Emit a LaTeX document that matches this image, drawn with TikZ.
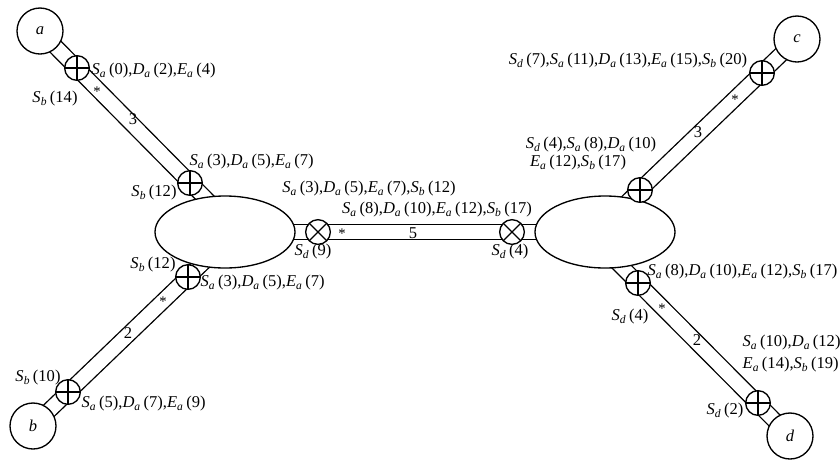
\documentclass[tikz,border=0pt]{standalone}
\usepackage{fontspec}
\setmainfont{Liberation Serif}
\usetikzlibrary{shapes.geometric,backgrounds}
\newcommand\q[3]{\textit{#1}\textsubscript{\textit{#2}}\,(#3)}
\begin{document}
\begin{tikzpicture}[x=0.75pt,y=-0.75pt, line width=1pt,
  every node/.style={font=\fontsize{12.4}{14}\selectfont},
  term/.style={circle,draw,fill=white,minimum size=34.5pt,inner sep=0pt},
  hub/.style={ellipse,draw,fill=white,minimum width=105pt,minimum height=54pt,inner sep=0pt},
  xp/.style={circle,draw,fill=white,minimum size=18.5pt,inner sep=0pt,
    path picture={\draw[line width=1pt] (path picture bounding box.north)--(path picture bounding box.south)
      (path picture bounding box.east)--(path picture bounding box.west);}},
  xx/.style={circle,draw,fill=white,minimum size=18.5pt,inner sep=0pt,
    path picture={\draw[line width=1pt] (path picture bounding box.north west)--(path picture bounding box.south east)
      (path picture bounding box.north east)--(path picture bounding box.south west);}},
  tube/.style={double distance=10.5pt, line width=1pt},
  lab/.style={inner sep=0pt},
  ast/.style={inner sep=0pt,font=\fontsize{11}{12}\selectfont}
]
\useasboundingbox (0,0) rectangle (840,462);

% terminals and hubs
\node[term] (a) at (40,31) {\textit{a}};
\node[term] (b) at (33,426) {\textit{b}};
\node[term] (c) at (797,39) {\textit{c}};
\node[term] (d) at (790,436) {\textit{d}};
\node[hub] (L) at (225,232) {};
\node[hub] (R) at (605,232) {};
\coordinate (aL) at (215,208);
\coordinate (bL) at (210,256);
\coordinate (cR) at (620,209);
\coordinate (dR) at (615,260);

% crossing points
\node[xp] (a1) at (77,68) {};
\node[xp] (a2) at (190,183) {};
\node[xp] (b1) at (68,392) {};
\node[xp] (b2) at (188,277) {};
\node[xp] (c1) at (762,73) {};
\node[xp] (c2) at (640,190) {};
\node[xp] (d1) at (758,403) {};
\node[xp] (d2) at (638,283) {};
\node[xx] (h1) at (318,232) {};
\node[xx] (h2) at (512,232) {};

% tubes
\begin{scope}[on background layer]
\draw[tube] (a.center) -- (aL);
\draw[tube] (b.center) -- (bL);
\draw[tube] (c.center) -- (cR);
\draw[tube] (d.center) -- (dR);
\draw[tube] (L.center) -- (R.center);
\end{scope}

% link numbers and stars
\node[lab] (n3a) at (133,119) {3};
\node[ast] (s3a) at (97,92) {*};
\node[lab] (n2b) at (128,333) {2};
\node[ast] (s2b) at (163,302) {*};
\node[lab] (n5) at (413,233) {5};
\node[ast] (s5) at (342,234) {*};
\node[lab] (n3c) at (698,132) {3};
\node[ast] (s3c) at (735,100) {*};
\node[lab] (n2d) at (697,340) {2};
\node[ast] (s2d) at (662,309) {*};

% labels: upper left
\node[lab,anchor=west] (t1) at (91,71) {\q{S}{a}{0},\q{D}{a}{2},\q{E}{a}{4}};
\node[lab] (t2) at (55,99) {\q{S}{b}{14}};
\node[lab,anchor=west] (t3) at (189,162) {\q{S}{a}{3},\q{D}{a}{5},\q{E}{a}{7}};
\node[lab] (t4) at (154,193) {\q{S}{b}{12}};
% middle
\node[lab] (t5) at (369,189) {\q{S}{a}{3},\q{D}{a}{5},\q{E}{a}{7},\q{S}{b}{12}};
\node[lab] (t6) at (437,210) {\q{S}{a}{8},\q{D}{a}{10},\q{E}{a}{12},\q{S}{b}{17}};
\node[lab] (t7) at (313,252) {\q{S}{d}{9}};
\node[lab] (t8) at (510,252) {\q{S}{d}{4}};
% lower left
\node[lab] (t9) at (153,265) {\q{S}{b}{12}};
\node[lab,anchor=west] (t10) at (200,283) {\q{S}{a}{3},\q{D}{a}{5},\q{E}{a}{7}};
\node[lab] (t11) at (38,378) {\q{S}{b}{10}};
\node[lab,anchor=west] (t12) at (81,404) {\q{S}{a}{5},\q{D}{a}{7},\q{E}{a}{9}};
% upper right
\node[lab] (t13) at (628,61) {\q{S}{d}{7},\q{S}{a}{11},\q{D}{a}{13},\q{E}{a}{15},\q{S}{b}{20}};
\node[lab] (t14) at (591,145) {\q{S}{d}{4},\q{S}{a}{8},\q{D}{a}{10}};
\node[lab] (t15) at (578,163) {\q{E}{a}{12},\q{S}{b}{17}};
% lower right
\node[lab,anchor=west] (t16) at (647,272) {\q{S}{a}{8},\q{D}{a}{10},\q{E}{a}{12},\q{S}{b}{17}};
\node[lab] (t17) at (630,317) {\q{S}{d}{4}};
\node[lab,anchor=west] (t18) at (742,343) {\q{S}{a}{10},\q{D}{a}{12}};
\node[lab,anchor=west] (t19) at (742,365) {\q{E}{a}{14},\q{S}{b}{19}};
\node[lab] (t20) at (725,411) {\q{S}{d}{2}};
\end{tikzpicture}
\end{document}
